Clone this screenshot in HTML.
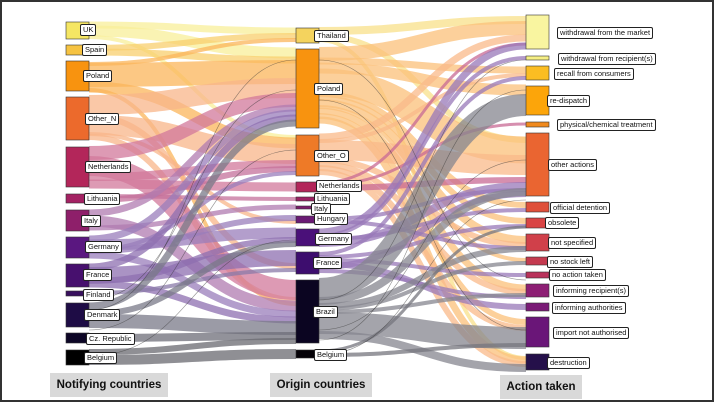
<!DOCTYPE html>
<html><head><meta charset="utf-8"><style>
html,body{margin:0;padding:0;}
body{width:714px;height:402px;position:relative;overflow:hidden;background:#fff;font-family:"Liberation Sans",sans-serif;}
.frame{position:absolute;left:0;top:0;width:710px;height:398px;border:2px solid #333;}
svg{position:absolute;left:0;top:0;}
.l{position:absolute;height:10px;line-height:10px;font-size:7.5px;border:1px solid #222;border-radius:2px;background:#fff;padding:0 2px;transform:translateY(-50%);white-space:nowrap;color:#111;}
.cap{position:absolute;background:#d9d9d9;font-weight:bold;font-size:11.5px;line-height:24px;height:24px;text-align:center;color:#111;}
</style></head><body>
<div class="frame"></div>
<svg width="714" height="402" viewBox="0 0 714 402">
<g fill="none" stroke-opacity="0.75">
<path d="M89 25 C192 25 192 31 296 31" stroke="#f8ef9a" stroke-width="7"/>
<path d="M89 31 C192 31 192 53 296 53" stroke="#f8ef9a" stroke-width="11"/>
<path d="M89 37 C192 37 192 137 296 137" stroke="#f8ef9a" stroke-width="4"/>
<path d="M89 48 C192 48 192 36 296 36" stroke="#f8cf6e" stroke-width="6"/>
<path d="M89 52 C192 52 192 60 296 60" stroke="#f8cf6e" stroke-width="7"/>
<path d="M89 64 C192 64 192 40 296 40" stroke="#fbb55b" stroke-width="4"/>
<path d="M89 75 C192 75 192 72 296 72" stroke="#fbb55b" stroke-width="24"/>
<path d="M89 87 C192 87 192 143 296 143" stroke="#fbb55b" stroke-width="11"/>
<path d="M89 90 C192 90 192 304 296 304" stroke="#fbb55b" stroke-width="4"/>
<path d="M89 105 C192 105 192 88 296 88" stroke="#f8b58a" stroke-width="20"/>
<path d="M89 116 C192 116 192 266 296 266" stroke="#f8b58a" stroke-width="6"/>
<path d="M89 125 C192 125 192 154 296 154" stroke="#f8b58a" stroke-width="20"/>
<path d="M89 134 C192 134 192 222 296 222" stroke="#f8b58a" stroke-width="4"/>
<path d="M89 137 C192 137 192 300 296 300" stroke="#f8b58a" stroke-width="6"/>
<path d="M89 153 C192 153 192 100 296 100" stroke="#d1789b" stroke-width="14"/>
<path d="M89 166 C192 166 192 290 296 290" stroke="#d1789b" stroke-width="20"/>
<path d="M89 177 C192 177 192 164 296 164" stroke="#d1789b" stroke-width="8"/>
<path d="M89 184 C192 184 192 187 296 187" stroke="#d1789b" stroke-width="9"/>
<path d="M89 196 C192 196 192 199 296 199" stroke="#c4709b" stroke-width="4"/>
<path d="M89 200 C192 200 192 169 296 169" stroke="#c4709b" stroke-width="6"/>
<path d="M89 213 C192 213 192 108 296 108" stroke="#b07bb0" stroke-width="7"/>
<path d="M89 221 C192 221 192 306 296 306" stroke="#b07bb0" stroke-width="11"/>
<path d="M89 228 C192 228 192 207 296 207" stroke="#b07bb0" stroke-width="5"/>
<path d="M89 239 C192 239 192 113 296 113" stroke="#9a7ebb" stroke-width="7"/>
<path d="M89 245 C192 245 192 233 296 233" stroke="#9a7ebb" stroke-width="11"/>
<path d="M89 251 C192 251 192 218 296 218" stroke="#9a7ebb" stroke-width="6"/>
<path d="M89 255 C192 255 192 314 296 314" stroke="#9a7ebb" stroke-width="7"/>
<path d="M89 250 C192 250 192 173 296 173" stroke="#9a7ebb" stroke-width="4"/>
<path d="M89 267 C192 267 192 118 296 118" stroke="#8e6fb0" stroke-width="7"/>
<path d="M89 275 C192 275 192 258 296 258" stroke="#8e6fb0" stroke-width="16"/>
<path d="M89 284 C192 284 192 320 296 320" stroke="#8e6fb0" stroke-width="7"/>
<path d="M89 281 C192 281 192 240 296 240" stroke="#8e6fb0" stroke-width="6"/>
<path d="M89 293 C192 293 192 270 296 270" stroke="#8a7aa8" stroke-width="4"/>
<path d="M89 306 C192 306 192 123 296 123" stroke="#7a7a88" stroke-width="7"/>
<path d="M89 314 C192 314 192 244 296 244" stroke="#7a7a88" stroke-width="6"/>
<path d="M89 321 C192 321 192 328 296 328" stroke="#7a7a88" stroke-width="14"/>
<path d="M89 338 C192 338 192 336 296 336" stroke="#6e6e78" stroke-width="8"/>
<path d="M89 352 C192 352 192 341 296 341" stroke="#6a6a70" stroke-width="6"/>
<path d="M89 360 C192 360 192 354 296 354" stroke="#6a6a70" stroke-width="10"/>
<path d="M319 31 C422 31 422 20 526 20" stroke="#f8e08a" stroke-width="8"/>
<path d="M319 36 C422 36 422 140 526 140" stroke="#f8e08a" stroke-width="6"/>
<path d="M319 40 C422 40 422 358 526 358" stroke="#f8e08a" stroke-width="4"/>
<path d="M319 54 C422 54 422 28 526 28" stroke="#fbc07a" stroke-width="14"/>
<path d="M319 61 C422 61 422 70 526 70" stroke="#fbc07a" stroke-width="7"/>
<path d="M319 68 C422 68 422 90 526 90" stroke="#fbc07a" stroke-width="11"/>
<path d="M319 82 C422 82 422 150 526 150" stroke="#fbc07a" stroke-width="27"/>
<path d="M319 94 C422 94 422 205 526 205" stroke="#fbc07a" stroke-width="6"/>
<path d="M319 98 C422 98 422 221 526 221" stroke="#fbc07a" stroke-width="6"/>
<path d="M319 103 C422 103 422 240 526 240" stroke="#fbc07a" stroke-width="8"/>
<path d="M319 107 C422 107 422 260 526 260" stroke="#fbc07a" stroke-width="4"/>
<path d="M319 111 C422 111 422 288 526 288" stroke="#fbc07a" stroke-width="7"/>
<path d="M319 116 C422 116 422 322 526 322" stroke="#fbc07a" stroke-width="6"/>
<path d="M319 120 C422 120 422 360 526 360" stroke="#fbc07a" stroke-width="7"/>
<path d="M319 137 C422 137 422 38 526 38" stroke="#f9b98a" stroke-width="7"/>
<path d="M319 141 C422 141 422 75 526 75" stroke="#f9b98a" stroke-width="4"/>
<path d="M319 150 C422 150 422 165 526 165" stroke="#f9b98a" stroke-width="20"/>
<path d="M319 160 C422 160 422 245 526 245" stroke="#f9b98a" stroke-width="6"/>
<path d="M319 164 C422 164 422 292 526 292" stroke="#f9b98a" stroke-width="6"/>
<path d="M319 168 C422 168 422 328 526 328" stroke="#f9b98a" stroke-width="6"/>
<path d="M319 172 C422 172 422 364 526 364" stroke="#f9b98a" stroke-width="6"/>
<path d="M319 183 C422 183 422 44 526 44" stroke="#c86a94" stroke-width="3"/>
<path d="M319 185 C422 185 422 124 526 124" stroke="#c86a94" stroke-width="3"/>
<path d="M319 188 C422 188 422 180 526 180" stroke="#c86a94" stroke-width="6"/>
<path d="M319 219 C422 219 422 190 526 190" stroke="#9878b8" stroke-width="4"/>
<path d="M319 221 C422 221 422 248 526 248" stroke="#9878b8" stroke-width="4"/>
<path d="M319 232 C422 232 422 46 526 46" stroke="#9878b8" stroke-width="7"/>
<path d="M319 236 C422 236 422 58 526 58" stroke="#9878b8" stroke-width="4"/>
<path d="M319 239 C422 239 422 210 526 210" stroke="#9878b8" stroke-width="4"/>
<path d="M319 243 C422 243 422 186 526 186" stroke="#9878b8" stroke-width="8"/>
<path d="M319 254 C422 254 422 78 526 78" stroke="#9878b8" stroke-width="4"/>
<path d="M319 257 C422 257 422 226 526 226" stroke="#9878b8" stroke-width="4"/>
<path d="M319 260 C422 260 422 275 526 275" stroke="#9878b8" stroke-width="4"/>
<path d="M319 264 C422 264 422 307 526 307" stroke="#9878b8" stroke-width="6"/>
<path d="M319 267 C422 267 422 194 526 194" stroke="#9878b8" stroke-width="6"/>
<path d="M319 271 C422 271 422 297 526 297" stroke="#9878b8" stroke-width="4"/>
<path d="M319 289 C422 289 422 105 526 105" stroke="#86868f" stroke-width="22"/>
<path d="M319 301 C422 301 422 192 526 192" stroke="#86868f" stroke-width="8"/>
<path d="M319 306 C422 306 422 249 526 249" stroke="#86868f" stroke-width="6"/>
<path d="M319 309 C422 309 422 263 526 263" stroke="#86868f" stroke-width="4"/>
<path d="M319 312 C422 312 422 295 526 295" stroke="#86868f" stroke-width="4"/>
<path d="M319 323 C422 323 422 338 526 338" stroke="#86868f" stroke-width="22"/>
<path d="M319 335 C422 335 422 368 526 368" stroke="#86868f" stroke-width="8"/>
<path d="M319 351 C422 351 422 227 526 227" stroke="#76767e" stroke-width="3"/>
<path d="M319 355 C422 355 422 345 526 345" stroke="#76767e" stroke-width="4"/>
</g>
<g fill="none" stroke="#333" stroke-width="0.6" stroke-opacity="0.55">
<path d="M89 310 C192 310 192 60 296 60"/>
<path d="M89 330 C192 330 192 150 296 150"/>
<path d="M89 356 C192 356 192 240 296 240"/>
<path d="M89 300 C192 300 192 90 296 90"/>
<path d="M319 300 C422 300 422 60 526 60"/>
<path d="M319 340 C422 340 422 90 526 90"/>
<path d="M319 355 C422 355 422 200 526 200"/>
<path d="M319 330 C422 330 422 160 526 160"/>
<path d="M319 100 C422 100 422 330 526 330"/>
<path d="M319 60 C422 60 422 280 526 280"/>
</g>
<g stroke="#333" stroke-width="0.6">
<rect x="66" y="22" width="23" height="17" fill="#f5e663"/>
<rect x="66" y="45" width="23" height="10" fill="#f6c342"/>
<rect x="66" y="61" width="23" height="30" fill="#f8930f"/>
<rect x="66" y="97" width="23" height="43" fill="#ec6a2c"/>
<rect x="66" y="147" width="23" height="40" fill="#b3265a"/>
<rect x="66" y="194" width="23" height="9" fill="#a42263"/>
<rect x="66" y="210" width="23" height="21" fill="#8e1f6a"/>
<rect x="66" y="237" width="23" height="21" fill="#5a1780"/>
<rect x="66" y="264" width="23" height="23" fill="#47106e"/>
<rect x="66" y="291" width="23" height="5" fill="#38105e"/>
<rect x="66" y="303" width="23" height="24" fill="#1e0c45"/>
<rect x="66" y="333" width="23" height="10" fill="#0d0626"/>
<rect x="66" y="350" width="23" height="15" fill="#000"/>
<rect x="296" y="28" width="23" height="15" fill="#f4d35e"/>
<rect x="296" y="49" width="23" height="79" fill="#f8930f"/>
<rect x="296" y="135" width="23" height="41" fill="#ee7a27"/>
<rect x="296" y="182" width="23" height="10" fill="#b3265a"/>
<rect x="296" y="197" width="23" height="4" fill="#9c2163"/>
<rect x="296" y="206" width="23" height="3" fill="#7c1c6d"/>
<rect x="296" y="216" width="23" height="7" fill="#6a1a74"/>
<rect x="296" y="229" width="23" height="17" fill="#4a1079"/>
<rect x="296" y="252" width="23" height="22" fill="#3d0d6e"/>
<rect x="296" y="280" width="23" height="63" fill="#0b0521"/>
<rect x="296" y="350" width="23" height="8" fill="#050208"/>
<rect x="526" y="15" width="23" height="34" fill="#f9f5a0"/>
<rect x="526" y="56" width="23" height="4" fill="#f5ee84"/>
<rect x="526" y="66" width="23" height="14" fill="#fbbd22"/>
<rect x="526" y="86" width="23" height="29" fill="#fca50a"/>
<rect x="526" y="122" width="23" height="5" fill="#f08a1f"/>
<rect x="526" y="133" width="23" height="63" fill="#ea6531"/>
<rect x="526" y="202" width="23" height="10" fill="#df4f3a"/>
<rect x="526" y="218" width="23" height="10" fill="#d94545"/>
<rect x="526" y="234" width="23" height="17" fill="#d0404a"/>
<rect x="526" y="257" width="23" height="8" fill="#c43a4f"/>
<rect x="526" y="272" width="23" height="6" fill="#b9325b"/>
<rect x="526" y="284" width="23" height="13" fill="#8d1e74"/>
<rect x="526" y="303" width="23" height="8" fill="#7a1a76"/>
<rect x="526" y="317" width="23" height="30" fill="#6a1678"/>
<rect x="526" y="354" width="23" height="16" fill="#25104a"/>
</g>
</svg>
<div class="l" style="left:80px;top:30px">UK</div>
<div class="l" style="left:82px;top:50px">Spain</div>
<div class="l" style="left:83px;top:76px">Poland</div>
<div class="l" style="left:85px;top:119px">Other_N</div>
<div class="l" style="left:85px;top:167px">Netherlands</div>
<div class="l" style="left:84px;top:199px">Lithuania</div>
<div class="l" style="left:81px;top:221px">Italy</div>
<div class="l" style="left:85px;top:247px">Germany</div>
<div class="l" style="left:83px;top:275px">France</div>
<div class="l" style="left:83px;top:295px">Finland</div>
<div class="l" style="left:84px;top:315px">Denmark</div>
<div class="l" style="left:86px;top:339px">Cz. Republic</div>
<div class="l" style="left:84px;top:358px">Belgium</div>
<div class="l" style="left:314px;top:36px">Thailand</div>
<div class="l" style="left:314px;top:89px">Poland</div>
<div class="l" style="left:314px;top:156px">Other_O</div>
<div class="l" style="left:316px;top:186px">Netherlands</div>
<div class="l" style="left:314px;top:199px">Lithuania</div>
<div class="l" style="left:311px;top:209px">Italy</div>
<div class="l" style="left:314px;top:219px">Hungary</div>
<div class="l" style="left:315px;top:239px">Germany</div>
<div class="l" style="left:313px;top:263px">France</div>
<div class="l" style="left:313px;top:312px">Brazil</div>
<div class="l" style="left:314px;top:355px">Belgium</div>
<div class="l" style="left:557px;top:33px">withdrawal from the market</div>
<div class="l" style="left:558px;top:59px">withdrawal from recipient(s)</div>
<div class="l" style="left:554px;top:74px">recall from consumers</div>
<div class="l" style="left:547px;top:101px">re-dispatch</div>
<div class="l" style="left:557px;top:125px">physical/chemical treatment</div>
<div class="l" style="left:548px;top:165px">other actions</div>
<div class="l" style="left:550px;top:208px">official detention</div>
<div class="l" style="left:545px;top:223px">obsolete</div>
<div class="l" style="left:548px;top:243px">not specified</div>
<div class="l" style="left:547px;top:262px">no stock left</div>
<div class="l" style="left:549px;top:275px">no action taken</div>
<div class="l" style="left:553px;top:291px">informing recipient(s)</div>
<div class="l" style="left:552px;top:308px">informing authorities</div>
<div class="l" style="left:553px;top:333px">import not authorised</div>
<div class="l" style="left:547px;top:363px">destruction</div>
<div class="cap" style="left:50px;top:373px;width:118px">Notifying countries</div>
<div class="cap" style="left:270px;top:373px;width:102px">Origin countries</div>
<div class="cap" style="left:500px;top:375px;width:82px">Action taken</div>
</body></html>
